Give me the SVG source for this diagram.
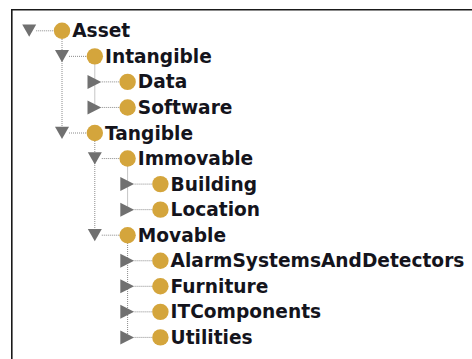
<svg xmlns="http://www.w3.org/2000/svg" xmlns:xlink="http://www.w3.org/1999/xlink" width="472" height="359" viewBox="0 0 472 359">
<style>
.bg{fill:#ffffff}
.frame{fill:none;stroke:#1a1a1a;stroke-width:1.6}
.dot{stroke:#8a8a8a;stroke-width:1;stroke-dasharray:1 1;fill:none}
.cls{fill:#D4A53C}
.tri{fill:#707070}
.lbl{font-family:"DejaVu Sans","Verdana",sans-serif;font-weight:bold;font-size:18.6px;fill:#14141c}
</style>
<defs>
<path id="tdown" d="M-7,-6.3 L7,-6.3 L0,6 Z"/>
<path id="tright" d="M-7.3,-7 L-7.3,7 L6.5,0 Z"/>
</defs>
<rect class="bg" x="0" y="0" width="472" height="359"/>
<path class="frame" d="M11.8,359 L11.8,9.8 L472,9.8"/>
<g id="connectors">
<line class="dot" x1="62" y1="39" x2="62" y2="133"/>
<line class="dot" x1="94.8" y1="64.5" x2="94.8" y2="107.45"/>
<line class="dot" x1="94.8" y1="141" x2="94.8" y2="235.2"/>
<line class="dot" x1="127.6" y1="166.5" x2="127.6" y2="209.65"/>
<line class="dot" x1="127.6" y1="243" x2="127.6" y2="337.4"/>
<line class="dot" x1="36.2" y1="30.8" x2="54" y2="30.8"/>
<line class="dot" x1="69" y1="56.35" x2="86.8" y2="56.35"/>
<line class="dot" x1="101.8" y1="81.9" x2="119.6" y2="81.9"/>
<line class="dot" x1="101.8" y1="107.45" x2="119.6" y2="107.45"/>
<line class="dot" x1="69" y1="133" x2="86.8" y2="133"/>
<line class="dot" x1="101.8" y1="158.55" x2="119.6" y2="158.55"/>
<line class="dot" x1="134.6" y1="184.1" x2="152.4" y2="184.1"/>
<line class="dot" x1="134.6" y1="209.65" x2="152.4" y2="209.65"/>
<line class="dot" x1="101.8" y1="235.2" x2="119.6" y2="235.2"/>
<line class="dot" x1="134.6" y1="260.75" x2="152.4" y2="260.75"/>
<line class="dot" x1="134.6" y1="286.3" x2="152.4" y2="286.3"/>
<line class="dot" x1="134.6" y1="311.85" x2="152.4" y2="311.85"/>
<line class="dot" x1="134.6" y1="337.4" x2="152.4" y2="337.4"/>
</g>
<g id="asset"><use xlink:href="#tdown" class="tri" x="29.2" y="30.8"/><circle class="cls" cx="62" cy="30.8" r="8.2"/><text class="lbl" x="72.2" y="37.3">Asset</text></g>
<g id="intangible"><use xlink:href="#tdown" class="tri" x="62" y="56.35"/><circle class="cls" cx="94.8" cy="56.35" r="8.2"/><text class="lbl" x="105" y="62.85">Intangible</text></g>
<g id="data"><use xlink:href="#tright" class="tri" x="94.8" y="81.9"/><circle class="cls" cx="127.6" cy="81.9" r="8.2"/><text class="lbl" x="137.8" y="88.4">Data</text></g>
<g id="software"><use xlink:href="#tright" class="tri" x="94.8" y="107.45"/><circle class="cls" cx="127.6" cy="107.45" r="8.2"/><text class="lbl" x="137.8" y="113.95">Software</text></g>
<g id="tangible"><use xlink:href="#tdown" class="tri" x="62" y="133"/><circle class="cls" cx="94.8" cy="133" r="8.2"/><text class="lbl" x="105" y="139.5">Tangible</text></g>
<g id="immovable"><use xlink:href="#tdown" class="tri" x="94.8" y="158.55"/><circle class="cls" cx="127.6" cy="158.55" r="8.2"/><text class="lbl" x="137.8" y="165.05">Immovable</text></g>
<g id="building"><use xlink:href="#tright" class="tri" x="127.6" y="184.1"/><circle class="cls" cx="160.4" cy="184.1" r="8.2"/><text class="lbl" x="170.6" y="190.6">Building</text></g>
<g id="location"><use xlink:href="#tright" class="tri" x="127.6" y="209.65"/><circle class="cls" cx="160.4" cy="209.65" r="8.2"/><text class="lbl" x="170.6" y="216.15">Location</text></g>
<g id="movable"><use xlink:href="#tdown" class="tri" x="94.8" y="235.2"/><circle class="cls" cx="127.6" cy="235.2" r="8.2"/><text class="lbl" x="137.8" y="241.7">Movable</text></g>
<g id="alarmsystemsanddetectors"><use xlink:href="#tright" class="tri" x="127.6" y="260.75"/><circle class="cls" cx="160.4" cy="260.75" r="8.2"/><text class="lbl" x="170.6" y="267.25">AlarmSystemsAndDetectors</text></g>
<g id="furniture"><use xlink:href="#tright" class="tri" x="127.6" y="286.3"/><circle class="cls" cx="160.4" cy="286.3" r="8.2"/><text class="lbl" x="170.6" y="292.8">Furniture</text></g>
<g id="itcomponents"><use xlink:href="#tright" class="tri" x="127.6" y="311.85"/><circle class="cls" cx="160.4" cy="311.85" r="8.2"/><text class="lbl" x="170.6" y="318.35">ITComponents</text></g>
<g id="utilities"><use xlink:href="#tright" class="tri" x="127.6" y="337.4"/><circle class="cls" cx="160.4" cy="337.4" r="8.2"/><text class="lbl" x="170.6" y="343.9">Utilities</text></g>
</svg>
